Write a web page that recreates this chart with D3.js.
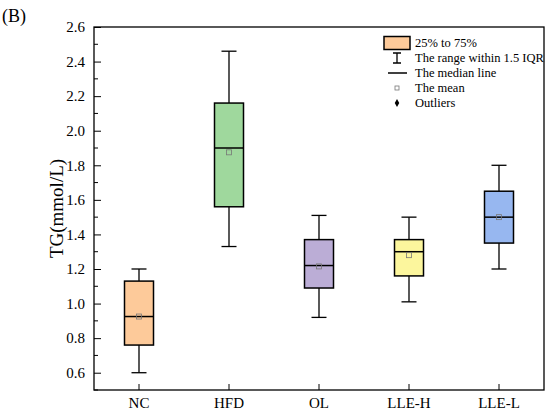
<!DOCTYPE html>
<html>
<head>
<meta charset="utf-8">
<script src="https://cdn.jsdelivr.net/npm/d3@7"></script>
<style>
  body { margin: 0; background: #fff; }
</style>
</head>
<body>
<div id="chart"></div>
<script>
// box statistics (TG, mmol/L)
const groups = ['NC', 'HFD', 'OL', 'LLE-H', 'LLE-L']
const whiskerLow = [0.60, 1.33, 0.92, 1.01, 1.20]
const q1 = [0.76, 1.56, 1.09, 1.16, 1.35]
const median = [0.925, 1.90, 1.22, 1.30, 1.50]
const q3 = [1.13, 2.16, 1.37, 1.37, 1.65]
const whiskerHigh = [1.20, 2.46, 1.51, 1.50, 1.80]
const means = [0.925, 1.875, 1.215, 1.28, 1.50]
const fills = ['#fdca9a', '#9fd89d', '#bbadd6', '#fcf69d', '#97b7f0']
const yTicks = [0.6, 0.8, 1.0, 1.2, 1.4, 1.6, 1.8, 2.0, 2.2, 2.4, 2.6]
const legendLabels = ['25% to 75%', 'The range within 1.5 IQR', 'The median line', 'The mean', 'Outliers']

const FONT = '"Liberation Serif", "Times New Roman", serif'
const W = 550, H = 414
const margin = { top: 27, right: 6, bottom: 24, left: 94 }
const plotW = W - margin.left - margin.right
const plotH = H - margin.top - margin.bottom

let svg = d3.select('#chart')
	.append('svg')
	.attr('width', W)
	.attr('height', H)
	.attr('font-family', FONT)

let g = svg.append('g').attr('transform', `translate(${margin.left},${margin.top})`)

let x = d3.scaleBand().domain(groups).range([0, plotW]).padding(0)
let y = d3.scaleLinear().domain([0.5, 2.6]).range([plotH, 0])

const boxW = 29
const capW = 15

// minor ticks (inside)
let minor = d3.range(0.5, 2.61, 0.1).filter(v => !yTicks.some(t => Math.abs(t - v) < 1e-6))
g.selectAll('.minor')
	.data(minor)
	.enter()
	.append('line')
	.attr('x1', 0)
	.attr('x2', 4)
	.attr('y1', d => y(d))
	.attr('y2', d => y(d))
	.attr('stroke', '#000')
	.attr('stroke-width', 1)

// y axis, ticks pointing inwards
let yAxis = g.append('g')
	.call(d3.axisLeft(y).tickValues(yTicks).tickFormat(d3.format('.1f')).tickSize(-7).tickPadding(9))
yAxis.attr('font-family', FONT)
yAxis.select('.domain').remove()
yAxis.selectAll('line').attr('stroke', '#000')
yAxis.selectAll('text').attr('font-size', 15).attr('font-family', FONT).attr('fill', '#000')

// x axis
let xAxis = g.append('g')
	.attr('transform', `translate(0,${plotH})`)
	.call(d3.axisBottom(x).tickSize(-6).tickPadding(7))
xAxis.attr('font-family', FONT)
xAxis.select('.domain').remove()
xAxis.selectAll('line').attr('stroke', '#000')
xAxis.selectAll('text').attr('font-size', 15).attr('font-family', FONT).attr('fill', '#000')

// frame
g.append('rect')
	.attr('width', plotW)
	.attr('height', plotH)
	.attr('fill', 'none')
	.attr('stroke', '#000')
	.attr('stroke-width', 1.3)

// boxes
groups.forEach((grp, i) => {
	let cx = x(grp) + x.bandwidth() / 2
	let bg = g.append('g')

	// whiskers
	bg.append('line')
		.attr('x1', cx).attr('x2', cx)
		.attr('y1', y(q3[i])).attr('y2', y(whiskerHigh[i]))
		.attr('stroke', '#000').attr('stroke-width', 1.3)
	bg.append('line')
		.attr('x1', cx).attr('x2', cx)
		.attr('y1', y(q1[i])).attr('y2', y(whiskerLow[i]))
		.attr('stroke', '#000').attr('stroke-width', 1.3)
	;[whiskerHigh[i], whiskerLow[i]].forEach(v => {
		bg.append('line')
			.attr('x1', cx - capW / 2).attr('x2', cx + capW / 2)
			.attr('y1', y(v)).attr('y2', y(v))
			.attr('stroke', '#000').attr('stroke-width', 1.3)
	})

	bg.append('rect')
		.attr('x', cx - boxW / 2)
		.attr('y', y(q3[i]))
		.attr('width', boxW)
		.attr('height', y(q1[i]) - y(q3[i]))
		.attr('fill', fills[i])
		.attr('stroke', '#000')
		.attr('stroke-width', 1.5)

	bg.append('line')
		.attr('x1', cx - boxW / 2).attr('x2', cx + boxW / 2)
		.attr('y1', y(median[i])).attr('y2', y(median[i]))
		.attr('stroke', '#000').attr('stroke-width', 1.5)

	bg.append('rect')
		.attr('x', cx - 2.5).attr('y', y(means[i]) - 2.5)
		.attr('width', 5).attr('height', 5)
		.attr('fill', 'none')
		.attr('stroke', '#777').attr('stroke-width', 0.8)
})

// legend
let lg = svg.append('g').attr('transform', 'translate(397,43)')
const rowH = 15
lg.append('rect')
	.attr('x', -13).attr('y', -6.5)
	.attr('width', 26).attr('height', 13)
	.attr('fill', fills[0]).attr('stroke', '#000').attr('stroke-width', 1.5)
lg.append('path')
	.attr('d', `M-4,${rowH - 5}H4M0,${rowH - 5}V${rowH + 5}M-4,${rowH + 5}H4`)
	.attr('stroke', '#000').attr('stroke-width', 1.3).attr('fill', 'none')
lg.append('line')
	.attr('x1', -9).attr('x2', 10)
	.attr('y1', rowH * 2).attr('y2', rowH * 2)
	.attr('stroke', '#000').attr('stroke-width', 1.5)
lg.append('rect')
	.attr('x', -2).attr('y', rowH * 3 - 2)
	.attr('width', 4).attr('height', 4)
	.attr('fill', 'none').attr('stroke', '#777').attr('stroke-width', 0.8)
lg.append('path')
	.attr('d', d3.symbol(d3.symbolDiamond, 18)())
	.attr('transform', `translate(0,${rowH * 4})`)
	.attr('fill', '#000')

lg.selectAll('.ltxt')
	.data(legendLabels)
	.enter()
	.append('text')
	.attr('x', 18)
	.attr('y', (d, i) => i * rowH)
	.attr('dy', '0.35em')
	.attr('font-size', 12.5)
	.attr('font-family', FONT)
	.text(d => d)

// axis title
svg.append('text')
	.attr('transform', `translate(56,${margin.top + plotH / 2}) rotate(-90)`)
	.attr('text-anchor', 'middle')
	.attr('dy', '0.35em')
	.attr('font-size', 19)
	.attr('font-family', FONT)
	.text('TG(mmol/L)')

// panel label
svg.append('text')
	.attr('x', 2)
	.attr('y', 22)
	.attr('font-size', 18)
	.attr('font-family', FONT)
	.text('(B)')
</script>
</body>
</html>
